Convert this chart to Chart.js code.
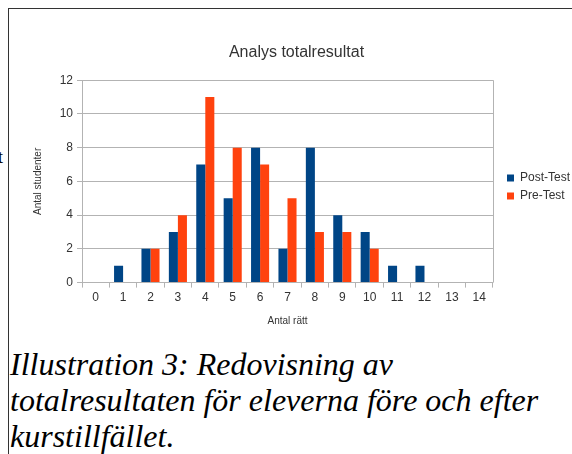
<!DOCTYPE html>
<html>
<head>
<meta charset="utf-8">
<script src="https://cdn.jsdelivr.net/npm/chart.js@4.4.1/dist/chart.umd.min.js"></script>
<style>
  body { margin: 0; background: #fff; width: 572px; height: 454px; overflow: hidden; position: relative; font-family: "Liberation Sans", Arial, sans-serif; }
  #ram { position: absolute; left: 8px; top: 8px; width: 600px; height: 500px; border-top: 1px solid #333; border-left: 1px solid #333; }
  #diagram { position: absolute; left: 9px; top: 9px; }
  #bildtext { position: absolute; left: 10px; top: 346px; font-family: "Liberation Serif", serif; font-style: italic; font-size: 32px; line-height: 36px; color: #000; white-space: nowrap; }
  #rest { position: absolute; left: -2px; top: 147px; font-family: "Liberation Serif", serif; font-size: 18px; color: #000; }
</style>
</head>
<body>
<div id="rest">t</div>
<div id="ram"></div>
<canvas id="diagram" width="563" height="321"></canvas>
<div id="bildtext">Illustration 3: Redovisning av<br>totalresultaten för eleverna före och efter<br>kurstillfället.</div>

<script>
// data
var antalRatt = ["0", "1", "2", "3", "4", "5", "6", "7", "8", "9", "10", "11", "12", "13", "14"];
var postTest = [0, 1, 2, 3, 7, 5, 8, 2, 8, 4, 3, 1, 1, 0, 0];
var preTest = [0, 0, 2, 4, 11, 8, 7, 5, 3, 3, 2, 0, 0, 0, 0];
var serieNamn = ["Post-Test", "Pre-Test"];
var serieFarg = ["#004586", "#ff420e"];
var yMax = 12;
var ySteg = 2;

var gridFarg = "#b3b3b3";
var textFarg = "#333333";

// linje på höger sida av diagramytan
var ramPlugin = {
  id: "ramPlugin",
  beforeDatasetsDraw: function (chart) {
    var ctx = chart.ctx;
    var a = chart.chartArea;
    ctx.save();
    ctx.strokeStyle = gridFarg;
    ctx.lineWidth = 1;
    ctx.beginPath();
    ctx.moveTo(Math.round(a.right) + 0.5, a.top);
    ctx.lineTo(Math.round(a.right) + 0.5, a.bottom);
    ctx.stroke();
    ctx.restore();
  }
};

// flytta förklaringen lite
var flyttaLegend = {
  id: "flyttaLegend",
  afterLayout: function (chart) {
    var l = chart.legend;
    var dx = 8, dy = 19;
    l.left += dx; l.right += dx;
    l.top += dy; l.bottom += dy;
  }
};

var ctx = document.getElementById("diagram");
var myChart = new Chart(ctx, {
  type: "bar",
  data: {
    labels: antalRatt,
    datasets: [{
      label: serieNamn[0],
      data: postTest,
      backgroundColor: serieFarg[0],
      borderWidth: 0
    }, {
      label: serieNamn[1],
      data: preTest,
      backgroundColor: serieFarg[1],
      borderWidth: 0
    }]
  },
  options: {
    responsive: false,
    animation: false,
    devicePixelRatio: 1,
    layout: { padding: { left: 12, right: 0, top: 0, bottom: 3 } },
    datasets: { bar: { barPercentage: 1.0, categoryPercentage: 0.66 } },
    plugins: {
      title: {
        display: true,
        text: "Analys totalresultat",
        color: textFarg,
        font: { family: "Liberation Sans", size: 16, weight: "normal" },
        padding: { top: 34, bottom: 18 }
      },
      legend: {
        position: "right",
        labels: {
          boxWidth: 7,
          boxHeight: 7,
          padding: 6,
          color: textFarg,
          font: { family: "Liberation Sans", size: 12 }
        }
      },
      tooltip: { enabled: false }
    },
    scales: {
      x: {
        grid: { offset: true, drawOnChartArea: false, drawTicks: true, tickLength: 5, color: gridFarg },
        border: { color: gridFarg },
        ticks: { color: textFarg, font: { family: "Liberation Sans", size: 12 }, padding: 3, maxRotation: 0 },
        title: { display: true, text: "Antal rätt", color: textFarg, font: { family: "Liberation Sans", size: 10 }, padding: { top: 7, bottom: 0 } }
      },
      y: {
        min: 0,
        max: yMax,
        ticks: { stepSize: ySteg, color: textFarg, font: { family: "Liberation Sans", size: 12 }, padding: 4 },
        grid: { color: gridFarg, tickLength: 5 },
        border: { color: gridFarg },
        title: { display: true, text: "Antal studenter", color: textFarg, font: { family: "Liberation Sans", size: 10 }, padding: { top: 11, bottom: 0 } },
        afterFit: function (scale) { scale.width = 61; }
      }
    }
  },
  plugins: [ramPlugin, flyttaLegend]
});
</script>
</body>
</html>
